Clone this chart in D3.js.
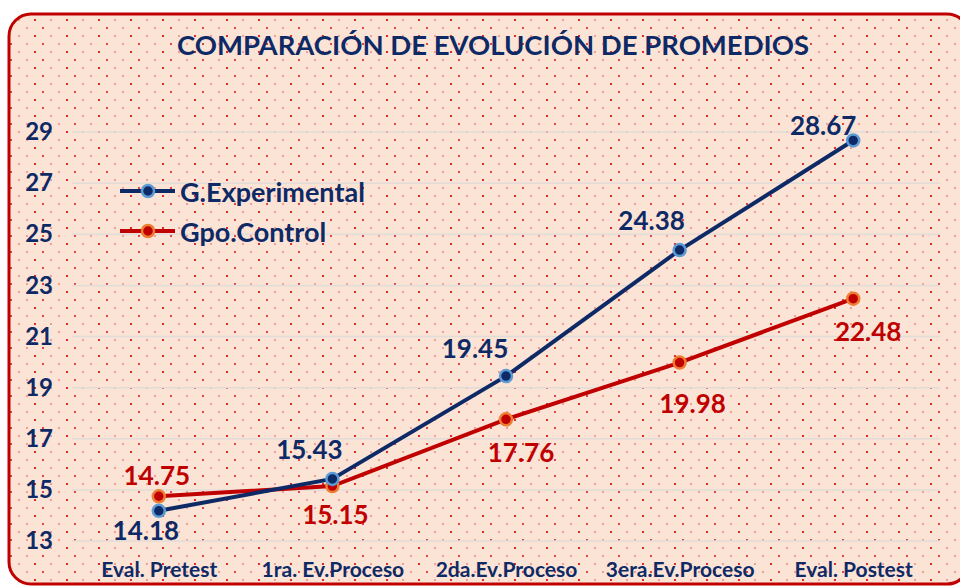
<!DOCTYPE html>
<html>
<head>
<meta charset="utf-8">
<script src="https://cdn.jsdelivr.net/npm/d3@7"></script>
<style>
  html, body { margin: 0; padding: 0; background: #fff; }
  svg { display: block; font-family: Lato, "Open Sans", sans-serif; }
</style>
</head>
<body>
<svg id="chart" width="960" height="586"></svg>
<script>
// data
var categories = ["Eval. Pretest", "1ra. Ev.Proceso", "2da.Ev.Proceso", "3era.Ev.Proceso", "Eval. Postest"];
var experimental = [14.18, 15.43, 19.45, 24.38, 28.67];
var control = [14.75, 15.15, 17.76, 19.98, 22.48];
var yTicks = [13, 15, 17, 19, 21, 23, 25, 27, 29];
var seriesNames = ["G.Experimental", "Gpo.Control"];

// where each value label sits relative to its point (pixels)
var expLabelOff = [[-13, 19], [-23, -30], [-31, -28], [-28, -30], [-30, -15]];
var ctlLabelOff = [[-2, -21], [3, 28], [15, 33], [13, 40], [15, 32]];

var navy = "#0e2a66", red = "#c00000";

var svg = d3.select("#chart");

// patterned background + rounded frame
var defs = svg.append("defs");
var pat = defs.append("pattern")
	.attr("id", "dots")
	.attr("patternUnits", "userSpaceOnUse")
	.attr("width", 32).attr("height", 16);
pat.append("rect").attr("width", 32).attr("height", 16).attr("fill", "#fbe4d6");
[[3, 4, 1.1, "#d80000"], [19, 4, 0.8, "#e04848"], [11, 12, 1.0, "#dc1010"], [27, 12, 0.8, "#e04848"]].forEach(function(d){
	pat.append("circle").attr("cx", d[0]).attr("cy", d[1]).attr("r", d[2]).attr("fill", d[3]);
});

svg.append("rect")
	.attr("x", 9).attr("y", 14)
	.attr("width", 960).attr("height", 570)
	.attr("rx", 22).attr("ry", 22)
	.attr("fill", "url(#dots)")
	.attr("stroke", red)
	.attr("stroke-width", 3);

// scales
var x = d3.scalePoint().domain(categories).range([72, 940]).padding(0.5);
var y = d3.scaleLinear().domain([13, 29]).range([541, 132]);

// gridlines
svg.append("g")
	.selectAll("line")
	.data(yTicks)
	.enter().append("line")
	.attr("x1", 72).attr("x2", 940)
	.attr("y1", function(d){ return y(d); })
	.attr("y2", function(d){ return y(d); })
	.attr("stroke", "#e2dcd8")
	.attr("stroke-width", 1.5);

// y axis
var yAxis = svg.append("g")
	.attr("transform", "translate(61,0)")
	.call(d3.axisLeft(y).tickValues(yTicks).tickSize(0).tickPadding(8));
yAxis.select(".domain").remove();
yAxis.selectAll("text")
	.attr("fill", navy)
	.style("font-size", "24px")
	.style("font-weight", "bold")
	.style("font-family", "Lato, sans-serif");

// x axis
var xAxis = svg.append("g")
	.attr("transform", "translate(0,570)")
	.call(d3.axisBottom(x).tickSize(0).tickPadding(0));
xAxis.select(".domain").remove();
xAxis.selectAll("text")
	.attr("fill", navy)
	.attr("dy", "0.35em")
	.style("font-size", "21px")
	.style("font-weight", "bold")
	.style("font-family", "Lato, sans-serif");

// title
svg.append("text")
	.attr("x", 493).attr("y", 44)
	.attr("text-anchor", "middle")
	.attr("dominant-baseline", "central")
	.attr("fill", navy)
	.style("font-size", "27.5px")
	.style("font-weight", "bold")
	.text("COMPARACIÓN DE EVOLUCIÓN DE PROMEDIOS");

// series
var series = [
	{ name: seriesNames[0], values: experimental, line: navy, fill: navy, ring: "#5b9bd5", off: expLabelOff, labelColor: navy },
	{ name: seriesNames[1], values: control, line: red, fill: red, ring: "#ed7d31", off: ctlLabelOff, labelColor: red }
];

var line = d3.line()
	.x(function(d, i){ return x(categories[i]); })
	.y(function(d){ return y(d); });

// draw control first so experimental sits on top like the picture
series.slice().reverse().forEach(function(s){
	var g = svg.append("g");
	g.append("path")
		.datum(s.values)
		.attr("d", line)
		.attr("fill", "none")
		.attr("stroke", s.line)
		.attr("stroke-width", 4);
	g.selectAll("circle")
		.data(s.values)
		.enter().append("circle")
		.attr("cx", function(d, i){ return x(categories[i]); })
		.attr("cy", function(d){ return y(d); })
		.attr("r", 6)
		.attr("fill", s.fill)
		.attr("stroke", s.ring)
		.attr("stroke-width", 2.5);
});

series.forEach(function(s){
	svg.append("g")
		.selectAll("text")
		.data(s.values)
		.enter().append("text")
		.attr("x", function(d, i){ return x(categories[i]) + s.off[i][0]; })
		.attr("y", function(d, i){ return y(d) + s.off[i][1]; })
		.attr("text-anchor", "middle")
		.attr("dominant-baseline", "central")
		.attr("fill", s.labelColor)
		.style("font-size", "26px")
		.style("font-weight", "bold")
		.text(function(d){ return d.toFixed(2); });
});

// legend
var legend = svg.append("g").attr("transform", "translate(120,191)");
series.forEach(function(s, i){
	var row = legend.append("g").attr("transform", "translate(0," + (i * 40) + ")");
	row.append("line")
		.attr("x1", 0).attr("x2", 55)
		.attr("stroke", s.line)
		.attr("stroke-width", 4);
	row.append("circle")
		.attr("cx", 28).attr("r", 6)
		.attr("fill", s.fill)
		.attr("stroke", s.ring)
		.attr("stroke-width", 2.5);
	row.append("text")
		.attr("x", 60)
		.attr("dominant-baseline", "central")
		.attr("fill", navy)
		.style("font-size", "27px")
		.style("font-weight", "bold")
		.text(s.name);
});
</script>
</body>
</html>
